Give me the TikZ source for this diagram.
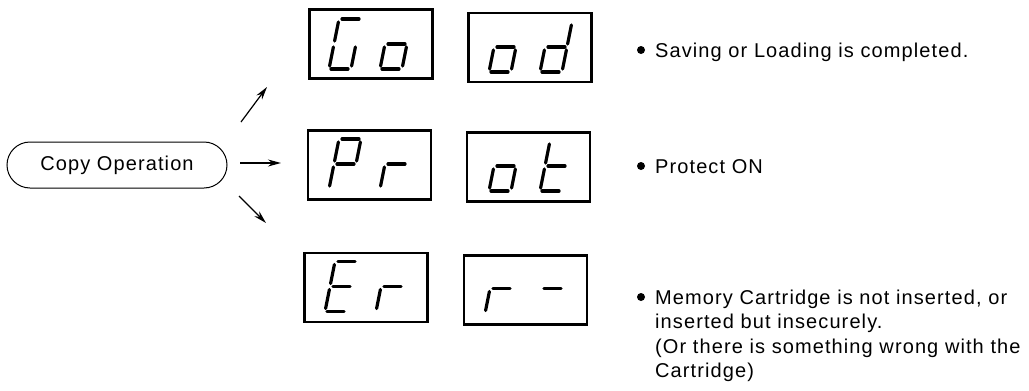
\documentclass[tikz,border=0pt]{standalone}
\usepackage{fontspec}
\setmainfont{Liberation Sans}[LetterSpace=5.5]
\usetikzlibrary{arrows.meta}
\newcommand\dgX{0}
\newcommand\dgY{0}
\newcommand\segline[4]{\draw[segstroke] ({\dgX+#1+0.2*#2},{\dgY-#2}) -- ({\dgX+#3+0.2*#4},{\dgY-#4});}
\newcommand\sega{\segline{3}{50}{20}{50}}
\newcommand\segb{\segline{22}{47}{22}{28}}
\newcommand\segc{\segline{22}{22}{22}{3}}
\newcommand\segd{\segline{2}{0}{19}{0}}
\newcommand\sege{\segline{0}{22}{0}{3}}
\newcommand\segf{\segline{0}{47}{0}{28}}
\newcommand\segg{\segline{3}{25}{20}{25}}
\newcommand\sevdigit[3]{\renewcommand\dgX{#1}\renewcommand\dgY{#2}\foreach \q in {#3}{\csname seg\q\endcsname}}
\begin{document}
\begin{tikzpicture}[x=1pt,y=-1pt,
  segstroke/.style={line width=3.2pt,line cap=round},
  dispbox/.style={draw,line width=2.8pt,minimum width=123pt,minimum height=69pt,inner sep=0pt},
  pill/.style={draw,line width=1pt,rounded corners=23pt,minimum width=220pt,minimum height=46pt,inner sep=0pt,font=\fontsize{20}{24}\selectfont},
  txt/.style={anchor=base west,inner sep=0pt,font=\fontsize{20}{24}\selectfont},
  bul/.style={circle,fill=black,inner sep=0pt,minimum size=8pt},
  arr/.style={line width=1.2pt,-{Stealth[length=13pt,width=7pt]}}]
\useasboundingbox (0,0) rectangle (1029,391);
\node[pill] (copy) at (117,165) {Copy Operation\hspace{6pt}};
% arrows
\coordinate (u1) at (241,122); \coordinate (u2) at (267,87);
\coordinate (m1) at (240,163); \coordinate (m2) at (281,163);
\coordinate (d1) at (239,196); \coordinate (d2) at (266,223);
\draw[arr] (u1) -- (u2);
\draw[arr] (m1) -- (m2);
\draw[arr] (d1) -- (d2);
% display boxes
\node[dispbox] (b11) at (371,44) {};
\node[dispbox] (b12) at (530,47.5) {};
\node[dispbox] (b21) at (369.5,165) {};
\node[dispbox] (b22) at (528.5,167) {};
\node[dispbox] (b31) at (366,287.5) {};
\node[dispbox] (b32) at (525.5,290) {};
% digits
\sevdigit{329}{69}{a,c,d,e,f}
\sevdigit{380}{69}{c,d,e,g}
\sevdigit{489}{72}{c,d,e,g}
\sevdigit{540}{72}{b,c,d,e,g}
\sevdigit{329}{189}{a,b,e,f,g}
\sevdigit{380}{189}{e,g}
\sevdigit{489}{191}{c,d,e,g}
\sevdigit{540}{191}{d,e,f,g}
\sevdigit{325}{311.5}{a,d,e,f,g}
\sevdigit{376}{311.5}{e,g}
\sevdigit{485}{313.5}{e,g}
\sevdigit{536}{313.5}{g}
% texts
\node[bul] (p1) at (641,50) {};
\node[txt] (t1) at (655,57) {Saving or Loading is completed.};
\node[bul] (p2) at (641,166) {};
\node[txt] (t2) at (655,173) {Protect ON};
\node[bul] (p3) at (641,297) {};
\node[txt] (t3) at (655,304) {Memory Cartridge is not inserted, or};
\node[txt] (t4) at (655,328.5) {inserted but insecurely.};
\node[txt] (t5) at (655,353) {(Or there is something wrong with the};
\node[txt] (t6) at (655,377) {Cartridge)};
\end{tikzpicture}
\end{document}
